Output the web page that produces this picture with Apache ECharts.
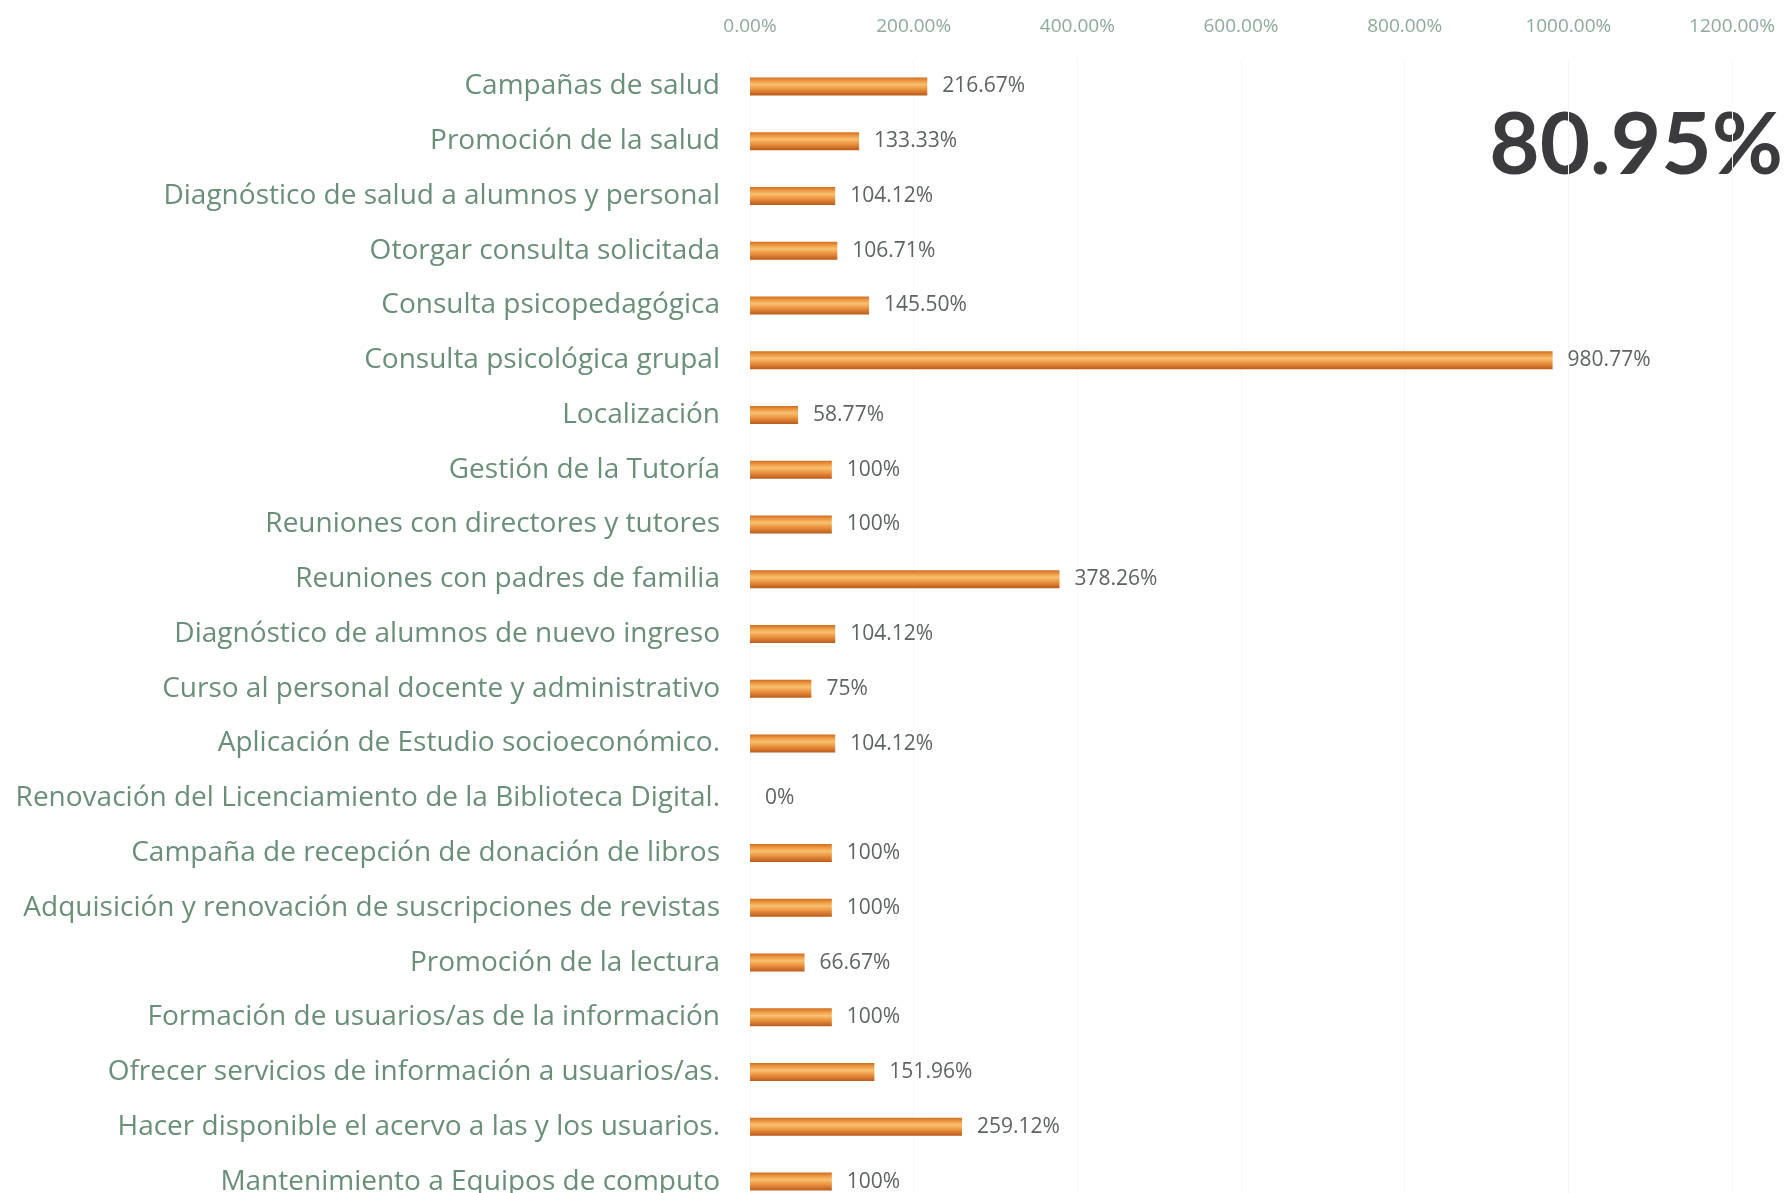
<!DOCTYPE html>
<html>
<head>
<meta charset="utf-8">
<script src="https://cdn.jsdelivr.net/npm/echarts@6/dist/echarts.min.js"></script>
<style>
  html, body { margin: 0; padding: 0; background: #fff; overflow: hidden; }
  #chart { width: 1786px; height: 1220px; }
</style>
</head>
<body>
<div id="chart"></div>
<script>
var CATEGORIES = [
  'Campañas de salud',
  'Promoción de la salud',
  'Diagnóstico de salud a alumnos y personal',
  'Otorgar consulta solicitada',
  'Consulta psicopedagógica',
  'Consulta psicológica grupal',
  'Localización',
  'Gestión de la Tutoría',
  'Reuniones con directores y tutores',
  'Reuniones con padres de familia',
  'Diagnóstico de alumnos de nuevo ingreso',
  'Curso al personal docente y administrativo',
  'Aplicación de Estudio socioeconómico.',
  'Renovación del Licenciamiento de la Biblioteca Digital.',
  'Campaña de recepción de donación de libros',
  'Adquisición y renovación de suscripciones de revistas',
  'Promoción de la lectura',
  'Formación de usuarios/as de la información',
  'Ofrecer servicios de información a usuarios/as.',
  'Hacer disponible el acervo a las y los usuarios.',
  'Mantenimiento a Equipos de computo'
];
var VALUES = [216.67, 133.33, 104.12, 106.71, 145.50, 980.77, 58.77, 100, 100, 378.26,
  104.12, 75, 104.12, 0, 100, 100, 66.67, 100, 151.96, 259.12, 100];
var VALUE_LABELS = ['216.67%', '133.33%', '104.12%', '106.71%', '145.50%', '980.77%', '58.77%',
  '100%', '100%', '378.26%', '104.12%', '75%', '104.12%', '0%', '100%', '100%', '66.67%',
  '100%', '151.96%', '259.12%', '100%'];
var TOTAL_LABEL = '80.95%';

var chart = echarts.init(document.getElementById('chart'), null, { renderer: 'canvas' });

// orange "cylinder" look of the original bars
var barFill = new echarts.graphic.LinearGradient(0, 0, 0, 1, [
  { offset: 0, color: '#cf6d22' },
  { offset: 0.2, color: '#ee9a42' },
  { offset: 0.4, color: '#f8c070' },
  { offset: 0.65, color: '#ec9440' },
  { offset: 1, color: '#bb5a1c' }
]);

chart.setOption({
  animation: false,
  grid: { left: 750, right: 54, top: 59, bottom: 11, containLabel: false },
  xAxis: {
    type: 'value',
    position: 'top',
    min: 0,
    max: 1200,
    interval: 200,
    axisLine: { show: false },
    axisTick: { show: false },
    splitLine: { show: true, lineStyle: { color: '#f7f7f7', width: 1 } },
    axisLabel: {
      margin: 23,
      color: '#8fa99b',
      fontFamily: 'Open Sans',
      fontSize: 19,
      formatter: function (v) { return v.toFixed(2) + '%'; }
    }
  },
  yAxis: {
    type: 'category',
    inverse: true,
    data: CATEGORIES,
    axisLine: { show: false },
    axisTick: { show: false },
    axisLabel: {
      margin: 30,
      color: '#6a8f78',
      fontFamily: 'Open Sans',
      fontSize: 28
    }
  },
  series: [{
    type: 'bar',
    data: VALUES,
    barWidth: 18,
    itemStyle: { color: barFill },
    label: {
      show: true,
      position: 'right',
      distance: 15,
      color: '#5e6461',
      fontFamily: 'Open Sans',
      fontSize: 21,
      formatter: function (p) { return VALUE_LABELS[p.dataIndex]; }
    }
  }],
  graphic: [{
    type: 'text',
    right: 3,
    top: 102,
    style: {
      text: TOTAL_LABEL,
      fill: '#3b3b3d',
      font: 'bold 87px Lato'
    }
  }]
});
</script>
</body>
</html>
